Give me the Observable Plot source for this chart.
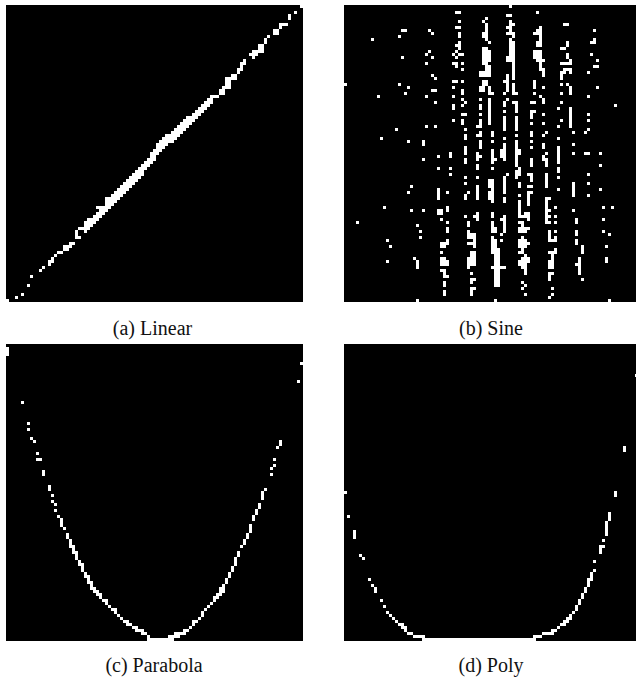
<!DOCTYPE html>
<html>
<head>
<meta charset="utf-8">
<script src="https://cdn.jsdelivr.net/npm/d3@7"></script>
<script src="https://cdn.jsdelivr.net/npm/@observablehq/plot@0.6"></script>
<style>
html,body{margin:0;padding:0;background:#fff;width:636px;height:680px;overflow:hidden}
#root{position:relative;width:636px;height:680px;overflow:hidden}
.panel{position:absolute}
.panel svg{display:block;max-width:none}
.cap{position:absolute;font-family:"Liberation Serif",serif;font-size:20px;color:#111;text-align:center;white-space:pre;line-height:24px}
</style>
</head>
<body>
<div id="root"></div>
<script>
// Each entry: [column, first row, last row] of white cells in a 99 x 99 grid
const gridSize = 99;
const titles = ["(a) Linear", "(b) Sine", "(c) Parabola", "(d) Poly"];

const linearCells = [
[0,98,98],[3,97,97],[5,96,96],[7,93,93],[8,90,90],[11,88,88],[12,87,87],[14,85,86],[15,84,85],[16,83,83],[17,82,82],[18,82,82],
[19,80,81],[20,80,81],[21,79,80],[22,79,79],[23,75,77],[24,74,74],[24,77,77],[25,74,74],[26,72,75],[27,71,74],[28,71,73],[29,70,72],
[30,69,71],[30,67,67],[31,67,70],[32,67,69],[33,64,68],[34,64,67],[35,63,66],[36,62,65],[37,61,64],[38,60,63],[39,59,62],[40,58,61],
[41,57,60],[42,56,59],[43,55,58],[44,54,57],[45,53,56],[46,52,54],[47,51,53],[48,49,52],[49,48,51],[50,46,49],[51,45,48],[52,44,47],
[53,43,46],[54,43,45],[55,42,45],[56,41,44],[57,40,43],[58,39,42],[59,38,41],[60,37,40],[61,37,39],[62,36,38],[63,35,37],[64,34,36],
[65,33,35],[66,32,34],[67,31,33],[68,30,32],[69,30,30],[70,30,30],[71,28,29],[72,27,29],[73,24,27],[74,24,27],[75,23,24],[76,23,24],
[77,21,22],[78,19,21],[79,18,19],[81,16,16],[82,15,17],[83,15,16],[84,13,15],[85,13,15],[86,11,12],[87,10,10],[89,8,9],[90,8,9],
[91,6,7],[92,6,6],[93,6,6],[94,3,4],[96,2,2],[98,0,0]
];

const sineCells = [
[0,26,26],[9,11,11],[19,8,8],[20,8,8],[18,10,10],[19,17,17],[18,26,26],[21,27,27],[20,29,29],[11,30,30],[17,41,41],[12,44,44],[21,45,45],[26,45,46],
[28,8,8],[29,9,9],[28,15,15],[27,16,16],[29,17,17],[27,19,19],[29,23,23],[30,24,24],[29,28,28],[30,28,28],[27,30,30],[30,32,32],[27,40,40],[30,40,40],
[26,51,51],[31,50,50],[37,2,2],[38,2,2],[38,5,5],[37,7,7],[38,7,7],[38,9,10],[38,12,14],[37,13,13],[36,16,16],[37,15,15],[38,16,16],[39,16,16],[37,17,17],
[36,19,19],[37,19,20],[39,19,19],[39,21,21],[36,25,25],[37,25,25],[39,25,25],[36,27,27],[39,28,29],[36,30,30],[39,31,31],[40,32,32],[39,33,33],[36,33,34],
[39,36,36],[40,36,36],[36,38,38],[39,38,39],[40,41,41],[40,43,44],[40,47,49],[35,49,50],[40,51,52],
[47,4,4],[46,5,5],[47,6,8],[46,9,10],[47,9,11],[48,12,12],[46,14,19],[47,14,23],[48,15,18],[48,20,23],[45,22,23],[46,22,23],[46,25,28],[47,25,26],[48,27,29],[49,29,29],
[45,27,28],[45,31,31],[48,31,39],[45,33,34],[45,36,36],[45,38,40],[44,40,40],[45,42,43],[44,43,43],[45,45,47],[44,49,51],[45,50,50],[44,53,54],[44,57,57],[44,60,64],
[55,0,0],[54,3,3],[55,3,3],[55,5,5],[55,6,8],[56,6,6],[54,7,7],[54,9,9],[55,9,9],[56,9,10],[55,11,11],[55,12,18],[56,12,24],[54,17,18],[54,23,28],[53,25,25],[53,29,29],
[56,26,29],[57,29,29],[54,31,31],[53,32,33],[56,32,32],[57,32,35],[53,35,35],[53,37,41],[57,37,41],[57,43,43],[53,44,44],[57,45,48],[58,48,49],[53,46,51],[52,48,50],[57,49,53],
[49,42,43],[49,45,45],[49,48,52],[50,51,51],[49,54,54],[48,58,60],[49,58,60],[49,61,65],[48,62,64],[49,69,70],[49,72,75],[50,74,75],[53,70,70],[52,71,71],[53,71,75],[52,76,76],
[49,77,82],[50,78,78],[52,78,78],[50,79,82],[51,81,81],[50,82,93],[51,82,93],[49,87,87],[52,87,87],[53,87,87],[50,98,98],
[54,56,56],[53,57,62],[53,64,65],[58,54,56],[57,55,57],[58,59,60],[58,63,63],[58,65,70],[59,70,70],[58,72,72],[59,72,73],[58,74,75],[59,74,75],[60,74,75],[61,74,74],
[59,77,82],[58,78,80],[60,78,80],[61,79,79],[58,82,82],[60,83,89],[59,84,87],[61,84,85],[58,85,86],[59,92,92],[60,93,93],[59,94,94],[60,96,96],
[62,51,53],[61,56,56],[62,56,58],[61,60,60],[62,60,60],[61,62,62],[62,62,62],[61,63,66],[60,69,70],[61,69,71],
[64,2,2],[65,7,7],[64,8,9],[65,8,13],[63,9,9],[64,12,13],[63,15,17],[64,15,18],[65,15,21],[66,18,18],[66,21,23],[63,25,27],[66,27,27],[63,29,29],[65,30,30],[66,31,32],[62,32,32],[63,32,32],
[62,35,37],[63,35,35],[66,36,36],[62,39,39],[66,39,39],[62,42,43],[66,43,43],[67,42,42],[62,45,45],[62,47,47],[66,46,47],[67,49,49],[66,50,51],[67,51,53],[67,56,60],
[68,64,64],[67,64,66],[67,67,72],[68,68,68],[68,70,70],[68,72,72],[70,67,67],[70,70,70],[70,72,72],[68,75,77],[70,75,75],[70,77,77],[68,78,78],[69,78,78],[70,78,78],[70,81,82],[69,82,84],[68,82,82],
[68,85,87],[69,85,87],[68,89,90],[69,89,89],[68,91,91],[69,94,94],[69,96,96],[68,97,97],
[73,6,6],[74,6,6],[74,12,13],[72,14,14],[73,14,14],[74,16,17],[72,19,19],[73,19,19],[74,19,19],[75,18,19],[72,22,24],[73,21,22],[74,21,21],[75,21,22],[72,26,26],[74,26,26],[75,27,29],[72,29,29],
[72,32,32],[71,34,34],[75,34,40],[72,38,38],[71,40,40],[76,42,42],[71,44,44],[76,46,46],[71,47,52],[76,49,49],[71,54,55],[71,57,57],[71,61,61],[76,59,63],[81,56,56],[81,59,59],[81,63,63],
[76,68,68],[77,71,72],[77,75,76],[77,78,79],[79,80,82],[78,84,84],[77,86,86],[78,85,89],[79,91,91],
[83,8,8],[83,11,12],[82,12,12],[82,16,16],[84,18,18],[84,20,20],[83,20,20],[81,22,22],[84,27,27],[81,30,30],[81,36,36],[81,38,38],[81,41,41],[80,42,42],[80,49,49],[81,49,49],[85,49,49],
[90,33,33],[85,53,53],[85,61,61],[86,67,67],[89,67,67],[86,71,71],[86,75,75],[88,76,76],[87,80,80],[87,84,85],[88,98,98],
[31,54,54],[35,54,54],[35,56,56],[40,57,57],[44,57,57],[40,59,59],[22,60,60],[21,62,62],[31,61,64],[34,62,62],[41,62,62],[40,63,64],[13,67,67],[22,68,68],[26,68,68],[31,68,69],[32,68,69],[34,67,68],
[44,69,69],[43,70,70],[44,70,71],[40,70,70],[32,71,71],[4,72,72],[34,72,72],[41,72,73],[24,73,73],[34,74,75],[25,75,75],[25,77,77],[41,75,77],[42,76,77],[43,76,80],[41,79,79],[42,79,79],
[14,78,78],[15,80,80],[34,78,79],[32,79,80],[33,79,80],[32,82,82],[42,82,83],[43,82,83],[41,84,86],[42,84,86],[43,84,86],[23,84,84],[24,85,87],[14,85,85],[32,84,86],[33,84,86],[34,85,86],
[32,88,88],[33,88,90],[34,90,90],[41,87,87],[42,89,89],[42,91,92],[43,91,91],[33,92,93],[42,94,96],[43,94,94],[33,95,96],[24,98,98]
];

const parabolaCells = [
[0,1,3],[5,19,19],[7,26,26],[7,28,28],[8,31,31],[9,32,32],[10,36,36],[10,38,38],[11,38,38],[12,42,43],[14,47,48],[15,50,50],[15,52,52],[16,53,53],[16,55,55],[17,57,57],[18,58,60],[19,61,61],
[20,63,64],[21,65,67],[22,67,69],[23,69,71],[24,72,73],[25,73,75],[26,76,77],[27,77,79],[28,79,81],[29,81,82],[30,82,83],[31,83,84],[32,85,85],[33,85,86],[34,87,87],[35,88,88],[36,88,89],
[37,90,90],[38,91,91],[39,92,92],[40,92,93],[41,93,93],[42,94,94],[43,94,95],[44,95,95],[45,95,96],[46,96,96],[47,97,98],[48,98,98],[49,98,98],[50,98,98],[51,98,98],[52,98,98],[53,98,98],[54,97,98],
[55,97,98],[56,96,97],[57,96,97],[58,96,96],[59,95,96],[60,95,95],[61,94,94],[62,92,93],[63,92,92],[64,91,91],[65,89,90],[66,88,88],[67,87,87],[68,86,86],[69,84,85],[70,83,84],[71,81,83],[72,80,82],
[73,78,79],[74,76,77],[75,74,75],[76,71,73],[77,69,70],[78,67,67],[79,65,66],[80,63,64],[81,60,62],[82,57,58],[83,55,56],[84,53,54],[85,49,51],[86,48,48],[88,41,41],[88,43,43],[89,38,38],[89,40,40],
[90,34,34],[91,32,33],[97,12,12],[98,6,6]
];

const polyCells = [
[0,49,49],[1,57,57],[3,62,64],[5,70,70],[6,71,71],[8,78,78],[9,80,80],[10,81,82],[12,85,85],[13,87,87],[14,89,89],[15,90,90],[16,91,91],[17,92,92],[18,93,93],[19,93,94],[20,94,95],[21,96,96],[22,96,96],
[23,97,97],[24,97,97],[25,97,97],[26,97,98],[27,98,98],[28,98,98],[29,98,98],[30,98,98],[31,98,98],[32,98,98],[33,98,98],[34,98,98],[35,98,98],[36,98,98],[37,98,98],[38,98,98],[39,98,98],[40,98,98],
[41,98,98],[42,98,98],[43,98,98],[44,98,98],[45,98,98],[46,98,98],[47,98,98],[48,98,98],[49,98,98],[50,98,98],[51,98,98],[52,98,98],[53,98,98],[54,98,98],[55,98,98],[56,98,98],[57,98,98],[58,98,98],
[59,98,98],[60,98,98],[61,98,98],[62,98,98],[63,97,98],[64,97,97],[65,97,97],[66,96,96],[67,96,96],[68,96,96],[69,95,96],[70,95,95],[71,94,94],[72,93,93],[73,92,93],[74,91,92],[75,90,91],[76,89,89],
[77,87,88],[78,85,86],[79,83,84],[80,81,82],[81,78,80],[82,76,78],[83,75,75],[83,72,72],[85,69,69],[85,67,68],[86,67,67],[86,65,65],[87,61,63],[87,59,60],[88,56,58],[90,49,50],[93,34,35],[97,10,10]
];

const panels = [
  {cells: linearCells,   left: 6,   top: 5,   capX: 152.5, capY: 316, title: titles[0]},
  {cells: sineCells,     left: 344, top: 5,   capX: 491, capY: 316, title: titles[1]},
  {cells: parabolaCells, left: 6,   top: 344, capX: 154, capY: 653, title: titles[2]},
  {cells: polyCells,     left: 344, top: 344, capX: 491, capY: 653, title: titles[3]}
];

const root = document.getElementById("root");
for (const p of panels) {
  const chart = Plot.plot({
    width: 297,
    height: 297,
    margin: 0,
    style: {background: "#000"},
    x: {domain: [0, gridSize], range: [0, 297], axis: null},
    y: {domain: [0, gridSize], range: [0, 297], axis: null},
    marks: [
      Plot.rect(p.cells, {
        x1: d => d[0],
        x2: d => d[0] + 1,
        y1: d => d[1],
        y2: d => d[2] + 1,
        fill: "#fff",
        shapeRendering: "crispEdges"
      })
    ]
  });
  const box = document.createElement("div");
  box.className = "panel";
  box.style.left = p.left + "px";
  box.style.top = p.top + "px";
  box.appendChild(chart);
  root.appendChild(box);
  const cap = document.createElement("div");
  cap.className = "cap";
  cap.textContent = p.title;
  cap.style.left = (p.capX - 100) + "px";
  cap.style.width = "200px";
  cap.style.top = p.capY + "px";
  root.appendChild(cap);
}
</script>
</body>
</html>
